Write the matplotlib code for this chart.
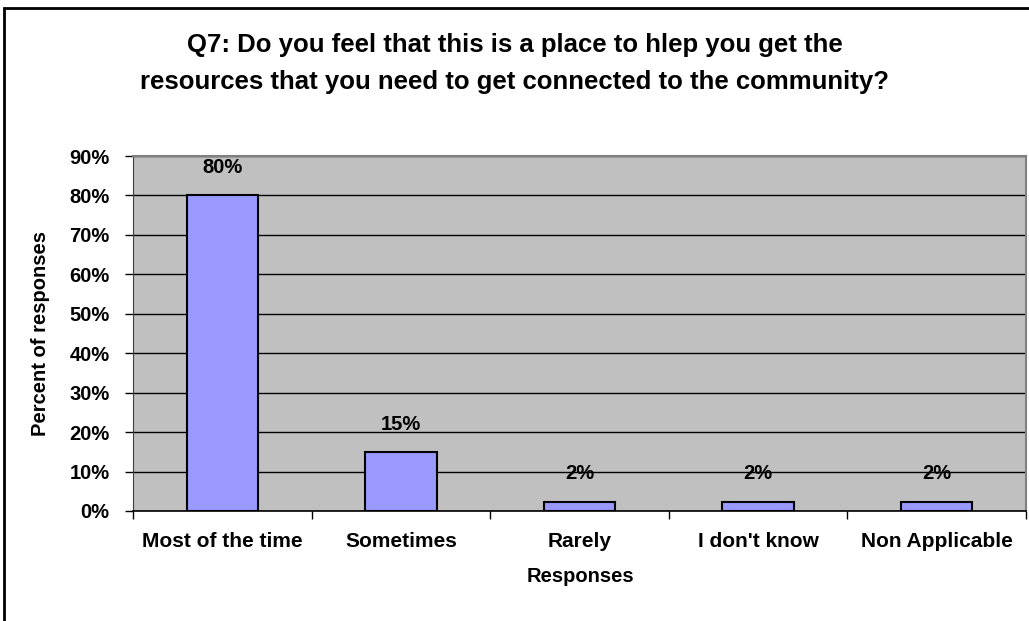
import matplotlib.pyplot as plt
from matplotlib.patches import Rectangle
from matplotlib.ticker import FixedLocator, NullFormatter

# Chart data
categories = ["Most of the time", "Sometimes", "Rarely", "I don't know", "Non Applicable"]
values = [80, 15, 2.4, 2.4, 2.4]
bar_labels = ["80%", "15%", "2%", "2%", "2%"]
y_ticks = [0, 10, 20, 30, 40, 50, 60, 70, 80, 90]

plt.rcParams["font.family"] = ["Liberation Sans", "DejaVu Sans"]
plt.rcParams["font.weight"] = "bold"

W, H = 1029, 621
fig = plt.figure(figsize=(W / 100, H / 100), dpi=100)
ax = fig.add_axes([133 / W, 110 / H, 893 / W, 355 / H])

# outer chart frame (runs off the right and bottom edge)
fig.patches.append(Rectangle((4 / W, -0.1), 1.2, 1 - 8 / H + 0.1,
                             transform=fig.transFigure, fill=False,
                             edgecolor="black", linewidth=2))

ax.set_facecolor("#C0C0C0")
x = list(range(len(categories)))
ax.bar(x, values, width=0.4, color="#9999FF", edgecolor="black", linewidth=1.5, zorder=3)

for xi, v, lab in zip(x, values, bar_labels):
    ax.text(xi, v + 4.6, lab, ha="center", va="bottom", fontsize=14.5, fontweight="bold")

ax.set_xlim(-0.5, len(categories) - 0.5)
ax.set_ylim(0, 90)
ax.set_yticks(y_ticks)
ax.set_yticklabels([f"{t}%" for t in y_ticks], fontsize=14.5, fontweight="bold")
ax.yaxis.grid(True, color="black", linewidth=1, zorder=1)
ax.set_axisbelow(True)

# category labels centred, tick marks between categories
ax.xaxis.set_major_locator(FixedLocator([i - 0.5 for i in range(len(categories) + 1)]))
ax.xaxis.set_major_formatter(NullFormatter())
ax.xaxis.set_minor_locator(FixedLocator(x))
ax.set_xticklabels(categories, minor=True, fontsize=15, fontweight="bold")
ax.tick_params(axis="x", which="minor", length=0, pad=15)
ax.tick_params(axis="x", which="major", length=6, width=1, color="black")
ax.tick_params(axis="y", length=6, width=1, color="black", pad=11)

for side in ["top", "right"]:
    ax.spines[side].set_color("#808080")
    ax.spines[side].set_linewidth(1.5)
ax.spines["left"].set_color("#404040")
ax.spines["bottom"].set_color("black")
ax.spines["bottom"].set_linewidth(1.2)

fig.text(580 / W, 1 - 577 / H, "Responses", ha="center", va="center",
         fontsize=14.5, fontweight="bold")
fig.text(41 / W, 1 - 333 / H, "Percent of responses", ha="center", va="center",
         rotation=90, fontsize=14.5, fontweight="bold")

fig.text(0.5, 1 - 45 / H, "Q7: Do you feel that this is a place to hlep you get the",
         ha="center", va="center", fontsize=18.5, fontweight="bold")
fig.text(0.5, 1 - 82 / H, "resources that you need to get connected to the community?",
         ha="center", va="center", fontsize=18.5, fontweight="bold")

fig.savefig("out.png", dpi=100)
